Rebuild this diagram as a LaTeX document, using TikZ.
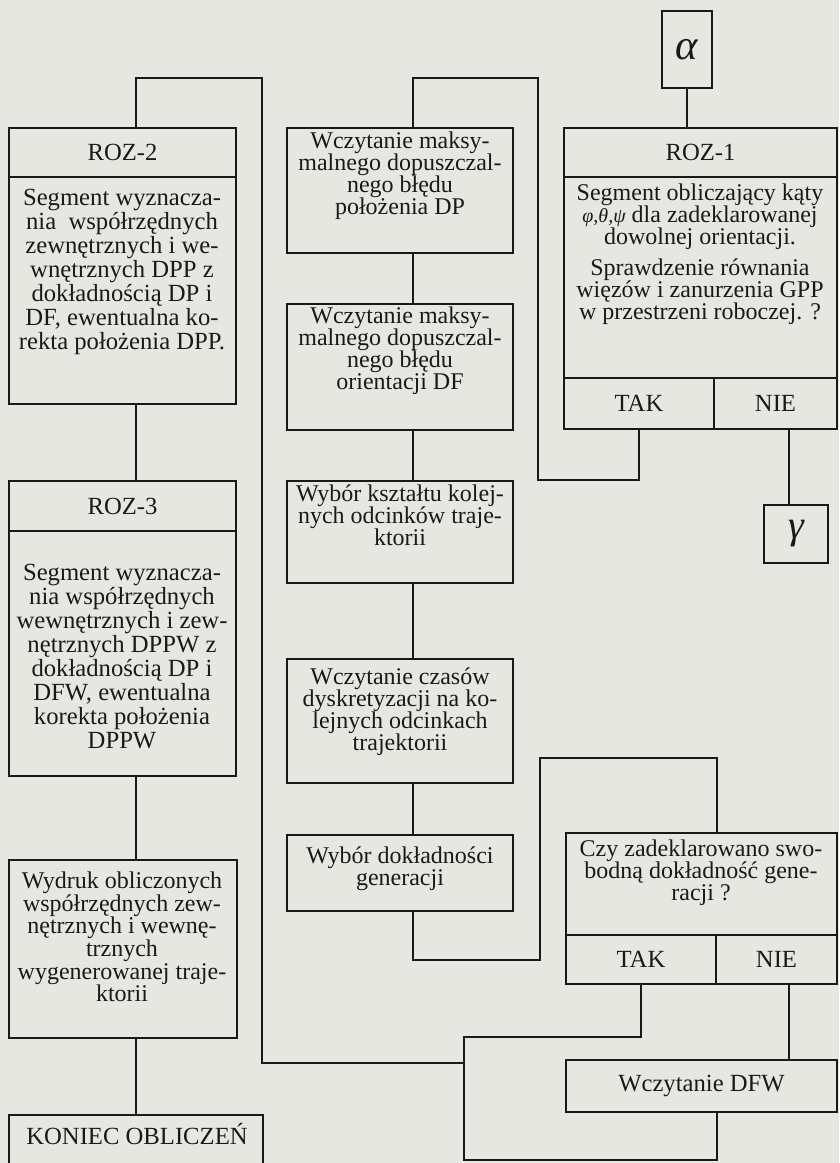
\documentclass[tikz,border=0pt]{standalone}
\usepackage{fontspec}
\setmainfont{Liberation Serif}
\usepackage{xcolor}
\usetikzlibrary{fit}

\definecolor{papier}{RGB}{231,231,226}
\definecolor{tusz}{RGB}{25,25,25}

\begin{document}
\begin{tikzpicture}[x=0.75pt, y=-0.75pt,
    ramka/.style={draw=tusz, line width=1.3pt, inner sep=0pt},
    every label/.style={text=tusz, inner sep=0pt,
        font=\fontsize{18.5}{18}\selectfont},
    opis/.style={align=center, inner sep=0pt, text=tusz,
        font={\fontsize{18}{16.5}\selectfont\lineskiplimit=-30pt}},
    opisL/.style={opis, font={\fontsize{18.5}{18}\selectfont\lineskiplimit=-30pt}},
    linia/.style={draw=tusz, line width=1.2pt}]

    % Page (scanned sheet)
    \useasboundingbox (0,0) rectangle (839,1163);
    \fill[papier] (0,0) rectangle (839,1163);
    \clip (0,0) rectangle (839,1163);

    % Connector columns
    \coordinate (osL) at (136,0);
    \coordinate (osM) at (413,0);
    \coordinate (osN) at (789,0);

    % Left column: ROZ-2, ROZ-3, printout, end
    \node[ramka, fit={(9,128) (236,177)}, label=center:ROZ-2] (roz2h) {};
    \node[ramka, fit={(9,177) (236,404)}] (roz2b) {};
    \node[opisL] (roz2t) at (122,272) {Segment wyznacza-\\nia\ \ współrzędnych\\zewnętrznych i we-\\wnętrznych DPP z\\dokładnością DP i\\DF, ewentualna ko-\\rekta położenia DPP.};

    \node[ramka, fit={(9,481) (236,531)}, label=center:ROZ-3] (roz3h) {};
    \node[ramka, fit={(9,531) (236,776)}] (roz3b) {};
    \node[opisL] (roz3t) at (122,657) {Segment wyznacza-\\nia współrzędnych\\wewnętrznych i zew-\\nętrznych DPPW z\\dokładnością DP i\\DFW, ewentualna\\korekta położenia\\DPPW};

    \node[ramka, fit={(9,860) (237,1038)}] (wydruk) {};
    \node[opis, font={\fontsize{18}{17}\selectfont\lineskiplimit=-30pt}] (wydrukt) at (122,937) {Wydruk obliczonych\\współrzędnych zew-\\nętrznych i wewnę-\\trznych\\wygenerowanej traje-\\ktorii};

    \node[ramka, fit={(9,1115) (263,1190)}] (koniec) {};
    \node[opisL] (koniect) at (137,1134) {KONIEC OBLICZEŃ};

    % Middle column: input data
    \node[ramka, fit={(287,128) (513,253)}] (wcz1) {};
    \node[opis] (wcz1t) at (400,176) {Wczytanie maksy-\\malnego dopuszczal-\\nego błędu\\położenia DP};
    \node[ramka, fit={(287,304) (513,430)}] (wcz2) {};
    \node[opis] (wcz2t) at (400,351) {Wczytanie maksy-\\malnego dopuszczal-\\nego błędu\\orientacji DF};
    \node[ramka, fit={(287,481) (513,583)}] (wyb1) {};
    \node[opis] (wyb1t) at (400,515) {Wybór kształtu kolej-\\nych odcinków traje-\\ktorii};
    \node[ramka, fit={(287,659) (513,783)}] (czas) {};
    \node[opis] (czast) at (400,712) {Wczytanie czasów\\dyskretyzacji na ko-\\lejnych odcinkach\\trajektorii};
    \node[ramka, fit={(287,835) (513,911)}] (dokl) {};
    \node[opis] (doklt) at (400,869) {Wybór dokładności\\generacji};

    % Right column: ROZ-1 and the accuracy question
    \node[ramka, fit={(662,11) (712,88)},
        label={[font=\fontsize{32}{32}\selectfont\itshape]center:α}] (alfa) {};
    \node[ramka, fit={(564,128) (837,177)}, label=center:ROZ-1] (roz1h) {};
    \node[ramka, fit={(564,177) (837,378)}] (roz1b) {};
    \node[opis] (roz1t) at (700,254) {Segment obliczający kąty\\{\itshape\fontsize{15}{16}\selectfont φ,θ,ψ} dla zadeklarowanej\\dowolnej orientacji.\\[7pt]Sprawdzenie równania\\więzów i zanurzenia GPP\\w przestrzeni roboczej. ?};
    \node[ramka, fit={(564,378) (714,429)}, label=center:TAK] (tak1) {};
    \node[ramka, fit={(714,378) (837,429)}, label=center:NIE] (nie1) {};
    \node[ramka, fit={(764,505) (828,563)},
        label={[font=\fontsize{30}{30}\selectfont\itshape]center:γ}] (gamma) {};

    \node[ramka, fit={(566,833) (837,935)}] (czy) {};
    \node[opis] (czyt) at (701,873) {Czy zadeklarowano swo-\\bodną dokładność gene-\\racji ?};
    \node[ramka, fit={(566,935) (716,984)}, label=center:TAK] (tak2) {};
    \node[ramka, fit={(716,935) (837,984)}, label=center:NIE] (nie2) {};
    \node[ramka, fit={(566,1060) (837,1112)}, label=center:Wczytanie DFW] (dfw) {};

    % Straight links
    \draw[linia] (roz2b.south -| osL) -- (roz3h.north -| osL);
    \draw[linia] (roz3b.south -| osL) -- (wydruk.north -| osL);
    \draw[linia] (wydruk.south -| osL) -- (koniec.north -| osL);
    \draw[linia] (wcz1.south -| osM) -- (wcz2.north -| osM);
    \draw[linia] (wcz2.south -| osM) -- (wyb1.north -| osM);
    \draw[linia] (wyb1.south -| osM) -- (czas.north -| osM);
    \draw[linia] (czas.south -| osM) -- (dokl.north -| osM);
    \draw[linia] (alfa.south) -- (alfa.south |- roz1h.north);
    \draw[linia] (nie1.south -| osN) -- (gamma.north -| osN);
    \draw[linia] (nie2.south -| osN) -- (dfw.north -| osN);

    % TAK of ROZ-1 back to the DP input
    \coordinate (p1) at (538,480);
    \coordinate (p2) at (538,78);
    \draw[linia] (tak1.south) |- (p1) -- (p2) -| (wcz1.north -| osM);

    % Accuracy choice to the question
    \coordinate (p3) at (540,960);
    \coordinate (p4) at (540,758);
    \draw[linia] (dokl.south -| osM) |- (p3) -- (p4) -| (czy.north -| tak2.east);

    % TAK and DFW back to ROZ-2
    \coordinate (p5) at (464,1037);
    \coordinate (p6) at (464,1160);
    \coordinate (p7) at (464,1063);
    \coordinate (p8) at (262,1063);
    \coordinate (p9) at (262,78);
    \draw[linia] (tak2.south) |- (p5) -- (p6) -| (dfw.south -| tak2.east);
    \draw[linia] (p7) -- (p8) -- (p9) -| (roz2h.north -| osL);
\end{tikzpicture}
\end{document}
